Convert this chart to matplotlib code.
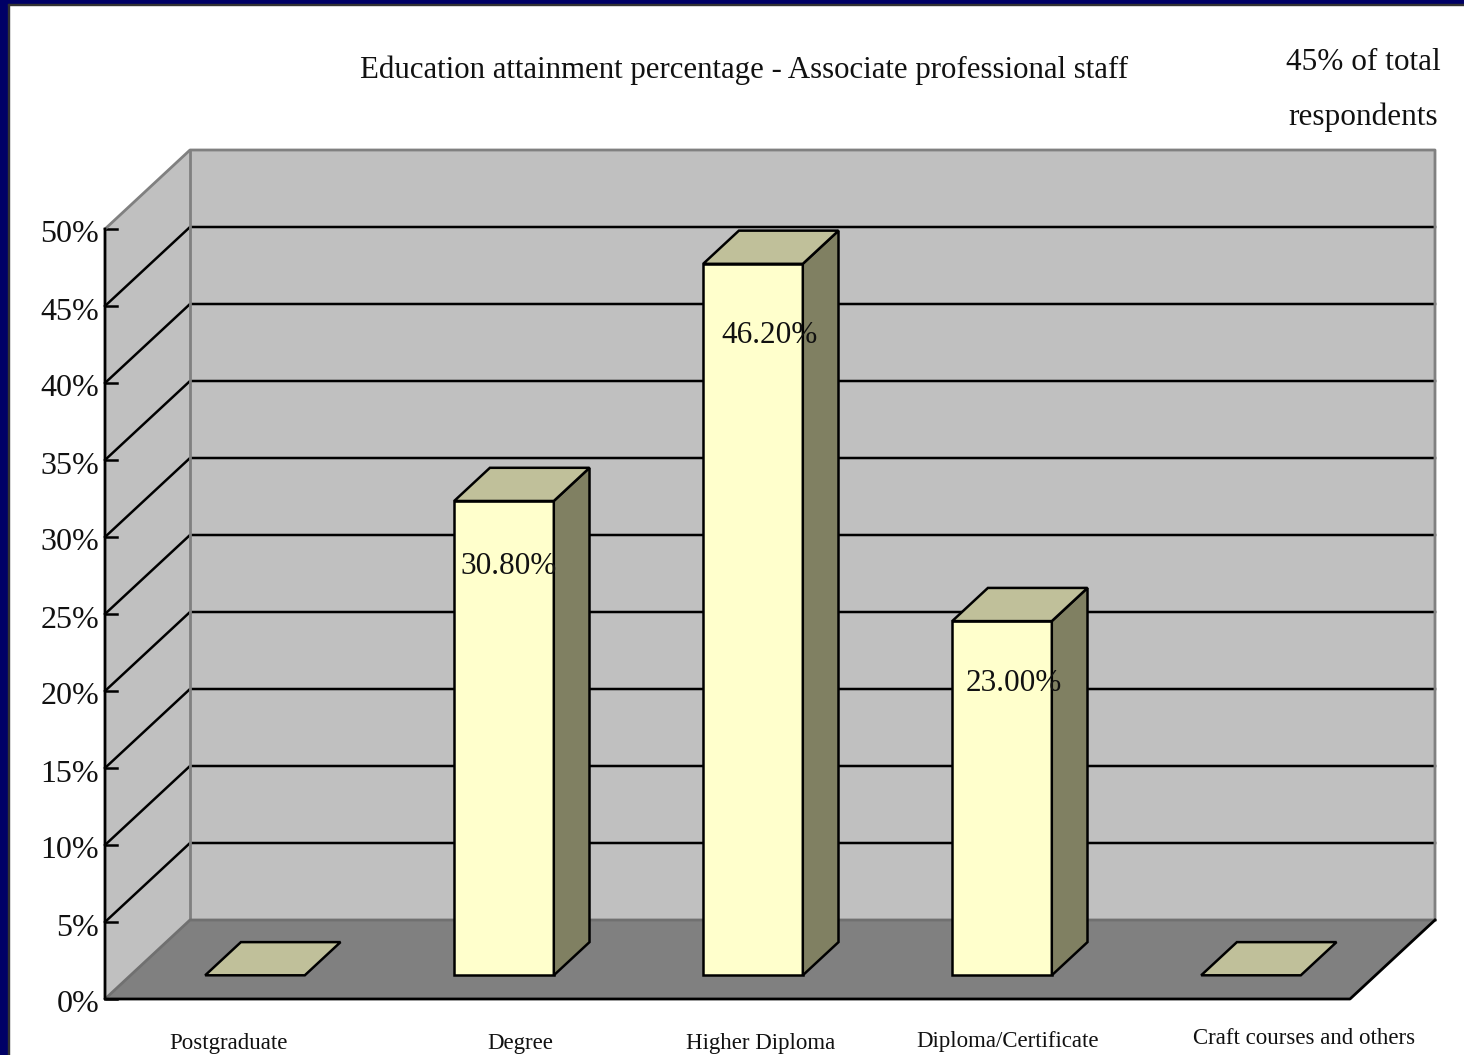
import matplotlib
matplotlib.use('Agg')
import matplotlib.pyplot as plt
from matplotlib.patches import Rectangle

categories = ['Postgraduate', 'Degree', 'Higher Diploma', 'Diploma/Certificate', 'Craft courses and others']
values = [0, 30.8, 46.2, 23.0, 0]
value_labels = ['', '30.80%', '46.20%', '23.00%', '']
y_ticks = [0, 5, 10, 15, 20, 25, 30, 35, 40, 45, 50]
title = 'Education attainment percentage - Associate professional staff'
note = ['45% of total', 'respondents']

W, H = 1464, 1055
plt.rcParams['font.family'] = ['Liberation Serif', 'DejaVu Serif']

WALL = '#c0c0c0'
FLOOR = '#808080'
EDGE = '#808080'
BAR_FRONT = '#ffffcc'
BAR_TOP = '#c0c09a'
BAR_SIDE = '#808062'

# size of the 3d depth in data units (one category = 249px, 1% = 15.4px)
DEPTH_X = 85 / 249
DEPTH_Y = 79 / 15.4
BAR_NEAR = 0.30
BAR_FAR = 0.72
BAR_W = 0.40


def px_text(fig, x, y, s, size, ha='center'):
    fig.text(x / W, 1 - y / H, s, fontsize=size, ha=ha, va='center', color='#111111')


def draw_frame(fig):
    fig.patches.append(Rectangle((0, 0), 8 / W, 1, transform=fig.transFigure, color='#000066', zorder=5))
    fig.patches.append(Rectangle((0, 1 - 4 / H), 1, 4 / H, transform=fig.transFigure, color='#000066', zorder=5))
    fig.patches.append(Rectangle((8 / W, 0), 1 / W, 1 - 4 / H, transform=fig.transFigure, color='#333333', zorder=5))
    fig.patches.append(Rectangle((8 / W, 1 - 5 / H), 1 - 8 / W, 1 / H, transform=fig.transFigure, color='#333333', zorder=5))


def draw_box(ax):
    n = len(categories)
    top = y_ticks[-1]
    ax.fill([0, DEPTH_X, DEPTH_X, 0], [0, DEPTH_Y, top + DEPTH_Y, top], color=WALL, lw=0, zorder=1, clip_on=False)
    ax.fill([DEPTH_X, n + DEPTH_X, n + DEPTH_X, DEPTH_X], [DEPTH_Y, DEPTH_Y, top + DEPTH_Y, top + DEPTH_Y],
            color=WALL, lw=0, zorder=1, clip_on=False)
    ax.fill([0, n, n + DEPTH_X, DEPTH_X], [0, 0, DEPTH_Y, DEPTH_Y], color=FLOOR, lw=0, zorder=1, clip_on=False)

    # grid lines run along the side wall and then the back wall
    for v in y_ticks[1:-1]:
        ax.plot([0, DEPTH_X, n + DEPTH_X], [v, v + DEPTH_Y, v + DEPTH_Y], color='black', lw=1.8, zorder=2,
                clip_on=False)
    for v in y_ticks:
        ax.plot([0, 12 / 249], [v, v], color='black', lw=1.8, zorder=3, clip_on=False)

    ax.plot([0, DEPTH_X, n + DEPTH_X, n + DEPTH_X], [top, top + DEPTH_Y, top + DEPTH_Y, DEPTH_Y],
            color=EDGE, lw=2, zorder=3, clip_on=False)
    ax.plot([DEPTH_X, DEPTH_X], [DEPTH_Y, top + DEPTH_Y], color=EDGE, lw=2, zorder=3, clip_on=False)
    ax.plot([0, DEPTH_X, n + DEPTH_X], [0, DEPTH_Y, DEPTH_Y], color='#707070', lw=2, zorder=3, clip_on=False)
    ax.plot([0, 0, n, n + DEPTH_X], [top, 0, 0, DEPTH_Y], color='black', lw=2, zorder=4, clip_on=False)


def draw_bars(ax):
    near_x, near_y = BAR_NEAR * DEPTH_X, BAR_NEAR * DEPTH_Y
    far_x, far_y = BAR_FAR * DEPTH_X, BAR_FAR * DEPTH_Y
    sx, sy = far_x - near_x, far_y - near_y
    for i, v in enumerate(values):
        x0 = i + 0.5 - BAR_W / 2 + near_x
        x1 = x0 + BAR_W
        style = dict(edgecolor='black', lw=1.8, zorder=5, joinstyle='miter', clip_on=False)
        if v > 0:
            ax.fill([x0, x1, x1, x0], [near_y, near_y, near_y + v, near_y + v], facecolor=BAR_FRONT, **style)
            ax.fill([x1, x1 + sx, x1 + sx, x1], [near_y, near_y + sy, near_y + sy + v, near_y + v],
                    facecolor=BAR_SIDE, **style)
        ax.fill([x0, x1, x1 + sx, x0 + sx], [near_y + v, near_y + v, near_y + v + sy, near_y + v + sy],
                facecolor=BAR_TOP, **style)


def draw_labels(fig, ax):
    # value labels hang inside the bar, nudged by hand per bar (px)
    nudge = [0, 6, 18, 13, 0]
    drop = [0, 66, 72, 62, 0]
    for i, v in enumerate(values):
        if value_labels[i]:
            x0 = i + 0.5 - BAR_W / 2 + BAR_NEAR * DEPTH_X
            ax.annotate(value_labels[i], (x0, BAR_NEAR * DEPTH_Y + v), xytext=(nudge[i] * 0.72, -drop[i] * 0.72),
                        textcoords='offset points', fontsize=22.5, ha='left', va='center', color='#111111', zorder=6)

    for v in y_ticks:
        ax.annotate(f'{v}%', (0, v), xytext=(-6 * 0.72, -6 * 0.72), textcoords='offset points', fontsize=23,
                    ha='right', va='center', color='#111111', annotation_clip=False)

    cat_x = [228, 520, 761, 1008, 1304]
    cat_y = [1043, 1043, 1043, 1041, 1039]
    for name, x, y in zip(categories, cat_x, cat_y):
        px_text(fig, x, y, name, 16.5)

    px_text(fig, 744, 70, title, 22.2)
    px_text(fig, 1363, 62, note[0], 22.5)
    px_text(fig, 1363, 117, note[1], 22.5)


fig = plt.figure(figsize=(W / 100, H / 100), dpi=100, facecolor='white')
ax = fig.add_axes([105 / W, 1 - 999 / H, 1245 / W, 770 / H])
ax.set_xlim(0, len(categories))
ax.set_ylim(0, y_ticks[-1])
ax.axis('off')

draw_frame(fig)
draw_box(ax)
draw_bars(ax)
draw_labels(fig, ax)

fig.savefig('out.png', dpi=100)
